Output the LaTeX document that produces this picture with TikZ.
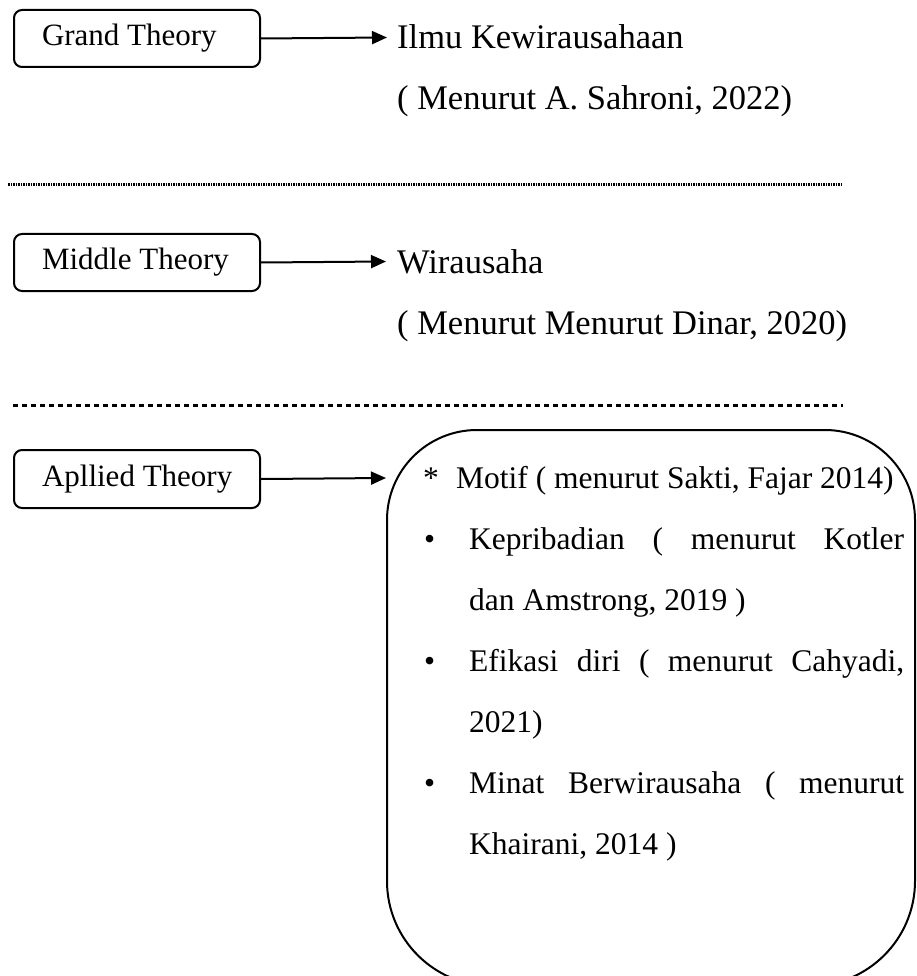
\documentclass[tikz,border=0pt]{standalone}
\usepackage{fontspec}
\setmainfont{Liberation Serif}
\usetikzlibrary{arrows.meta}
\begin{document}
\begin{tikzpicture}[x=1pt,y=-1pt,
  theorybox/.style={draw, line width=2pt, rounded corners=8pt, minimum width=246pt, minimum height=57pt, inner xsep=28pt, inner ysep=0pt, anchor=north west, font=\fontsize{31}{37}\selectfont},
  txt/.style={anchor=base west, inner sep=0pt, font=\fontsize{31.5}{37}\selectfont},
  toptxt/.style={anchor=base west, inner sep=0pt, font=\fontsize{34.5}{41}\selectfont},
  link/.style={line width=2pt, -{Triangle[length=15pt,width=13pt]}},
  sepfine/.style={line width=3pt, dash pattern=on 1.5pt off 1pt},
  sepdots/.style={line width=3pt, dash pattern=on 4.5pt off 4.5pt},
  bigline/.style={line width=2pt}
]
\useasboundingbox (0,0) rectangle (916,976);
% Grand theory
\node[theorybox] (g) at (13,9) {\makebox[190pt][l]{Grand Theory}};
\coordinate (gtip) at (387,37.5);
\draw[link] (g.east) -- (gtip);
\node[toptxt] (gi) at (397,49) {Ilmu Kewirausahaan};
\node[toptxt] (gs) at (397,110) {( Menurut A. Sahroni, 2022)};
% separator 1
\coordinate (s1a) at (8,185);
\coordinate (s1b) at (843,185);
\draw[sepfine] (s1a) -- (s1b);
% Middle theory
\node[theorybox] (m) at (13,233) {\makebox[190pt][l]{Middle Theory}};
\coordinate (mtip) at (386,261.5);
\draw[link] (m.east) -- (mtip);
\node[toptxt] (mi) at (397,273) {Wirausaha};
\node[toptxt] (ms) at (397,334) {( Menurut Menurut Dinar, 2020)};
% separator 2
\coordinate (s2a) at (13,405);
\coordinate (s2b) at (843,405);
\draw[sepdots] (s2a) -- (s2b);
% Applied theory
\node[theorybox, minimum height=58pt] (a) at (13,449) {\makebox[190pt][l]{Apllied Theory}};
% big rounded box
\coordinate (bl) at (387,700);
\coordinate (btl) at (387,430);
\coordinate (btr) at (915,430);
\coordinate (br) at (915,700);
\coordinate (bbr) at (915,986);
\coordinate (bbl) at (387,986);
\draw[bigline] (bl) [rounded corners=90pt] -- (btl) -- (btr) -- (br) [rounded corners=105pt] -- (bbr) -- (bbl) -- (bl);
\coordinate (atip) at (386,478);
\draw[link] (a.east) -- (atip);
% items
\node[txt] (st) at (423,488) {*};
\node[txt] (l1) at (456,488) {Motif ( menurut Sakti, Fajar 2014)};
\node[txt] (b2) at (424,549) {•};
\node[txt] (l2) at (469,549) {\hbox to 435pt{Kepribadian\hfill(\hfill menurut\hfill Kotler}};
\node[txt] (l3) at (469,610) {dan Amstrong, 2019 )};
\node[txt] (b4) at (424,671) {•};
\node[txt] (l4) at (469,671) {\hbox to 435pt{Efikasi\hfill diri\hfill(\hfill menurut\hfill Cahyadi,}};
\node[txt] (l5) at (469,732) {2021)};
\node[txt] (b6) at (424,793) {•};
\node[txt] (l6) at (469,793) {\hbox to 435pt{Minat\hfill Berwirausaha\hfill(\hfill menurut}};
\node[txt] (l7) at (469,854) {Khairani, 2014 )};
\end{tikzpicture}
\end{document}
